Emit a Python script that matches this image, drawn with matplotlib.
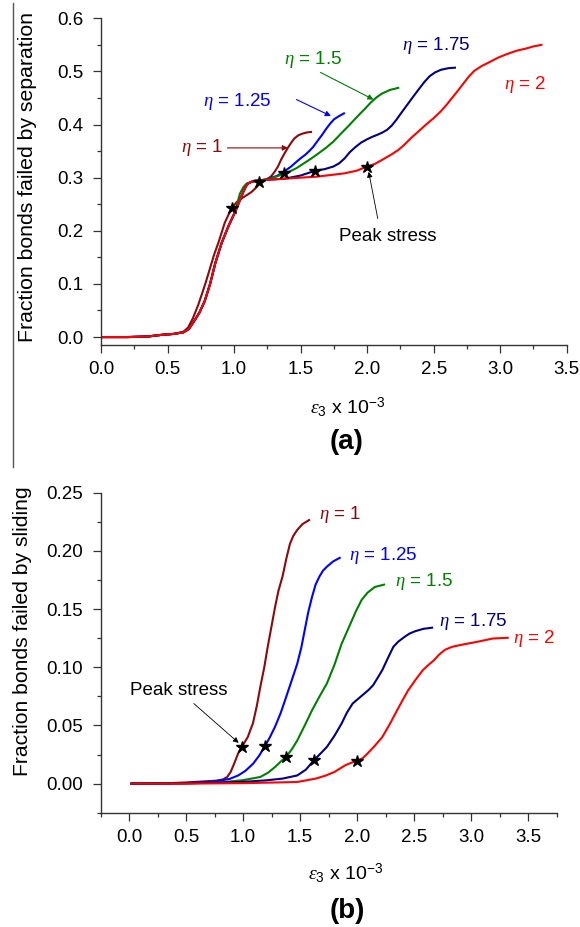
import matplotlib
matplotlib.use('Agg')
import matplotlib.pyplot as plt
from matplotlib.lines import Line2D
from matplotlib.ticker import MultipleLocator

plt.rcParams['font.family'] = ['Liberation Sans', 'DejaVu Sans']
plt.rcParams['mathtext.fontset'] = 'custom'
plt.rcParams['mathtext.rm'] = 'Liberation Sans'
plt.rcParams['mathtext.it'] = 'Liberation Serif:italic'

labels = ['1', '1.25', '1.5', '1.75', '2']
colors = ['#8b0a0a', '#0000ff', '#008000', '#000080', '#ff0000']

# (a) fraction of bonds failed by separation
rise_x = [0.0, 0.2, 0.35, 0.45, 0.55, 0.62, 0.66, 0.70, 0.74, 0.78, 0.82, 0.86, 0.908, 0.96, 1.007,
          1.04, 1.069, 1.09, 1.106, 1.13, 1.156]
rise_y = [0.0, 0.0, 0.001, 0.004, 0.006, 0.009, 0.015, 0.03, 0.046, 0.068, 0.10, 0.14, 0.178, 0.21, 0.235,
          0.255, 0.273, 0.284, 0.289, 0.292, 0.294]

sep_x1 = [0.0, 0.2, 0.35, 0.45, 0.55, 0.62, 0.655, 0.69, 0.73, 0.76, 0.79, 0.82, 0.85, 0.883, 0.93, 0.982,
          1.02, 1.056, 1.095, 1.131, 1.165, 1.193, 1.225, 1.255, 1.28, 1.305, 1.33, 1.354, 1.38, 1.404,
          1.43, 1.454, 1.485, 1.516, 1.545, 1.578]
sep_y1 = [0.0, 0.0, 0.001, 0.004, 0.006, 0.01, 0.018, 0.035, 0.06, 0.082, 0.105, 0.13, 0.155, 0.178, 0.215,
          0.243, 0.254, 0.261, 0.267, 0.273, 0.281, 0.289, 0.294, 0.298, 0.303, 0.311, 0.321, 0.334, 0.346,
          0.356, 0.366, 0.374, 0.38, 0.383, 0.385, 0.386]
sep_x2 = rise_x + [1.205, 1.24, 1.28, 1.32, 1.354, 1.39, 1.429, 1.465, 1.503, 1.535, 1.565, 1.595, 1.627,
                   1.66, 1.69, 1.72, 1.752, 1.79, 1.826]
sep_y2 = rise_y + [0.295, 0.297, 0.300, 0.303, 0.308, 0.314, 0.321, 0.329, 0.337, 0.343, 0.350, 0.358,
                   0.369, 0.380, 0.391, 0.401, 0.410, 0.416, 0.421]
sep_x3 = rise_x[:-6] + [1.044, 1.07, 1.094, 1.131, 1.2, 1.28, 1.33, 1.374, 1.413, 1.47, 1.525, 1.58, 1.636,
                        1.69, 1.747, 1.80, 1.859, 1.90, 1.942, 1.985, 2.026, 2.07, 2.11, 2.17, 2.234]
sep_y3 = rise_y[:-6] + [0.27, 0.282, 0.289, 0.292, 0.295, 0.299, 0.303, 0.308, 0.311, 0.318, 0.327, 0.336,
                        0.346, 0.356, 0.368, 0.382, 0.397, 0.408, 0.419, 0.430, 0.441, 0.451, 0.458, 0.465,
                        0.469]
sep_x4 = rise_x + [1.255, 1.379, 1.5, 1.61, 1.68, 1.747, 1.79, 1.83, 1.87, 1.914, 1.955, 1.998, 2.04, 2.08,
                   2.115, 2.15, 2.185, 2.22, 2.26, 2.304, 2.345, 2.387, 2.43, 2.47, 2.51, 2.554, 2.61, 2.66]
sep_y4 = rise_y + [0.296, 0.298, 0.304, 0.313, 0.316, 0.321, 0.327, 0.336, 0.348, 0.358, 0.366, 0.372,
                   0.377, 0.381, 0.385, 0.39, 0.398, 0.409, 0.423, 0.438, 0.452, 0.466, 0.48, 0.491, 0.498,
                   0.503, 0.506, 0.507]
sep_x5 = rise_x + [1.255, 1.379, 1.5, 1.627, 1.726, 1.826, 1.92, 2.0, 2.06, 2.137, 2.185, 2.234, 2.28,
                   2.332, 2.39, 2.443, 2.5, 2.554, 2.6, 2.638, 2.68, 2.72, 2.76, 2.805, 2.86, 2.916, 2.985,
                   3.055, 3.125, 3.194, 3.25, 3.31]
sep_y5 = rise_y + [0.296, 0.298, 0.300, 0.302, 0.305, 0.308, 0.313, 0.321, 0.326, 0.337, 0.344, 0.352,
                   0.362, 0.375, 0.388, 0.40, 0.412, 0.425, 0.438, 0.45, 0.463, 0.476, 0.489, 0.501, 0.51,
                   0.517, 0.526, 0.533, 0.539, 0.543, 0.547, 0.550]
sep_peak_x = [0.982, 1.19, 1.374, 1.61, 2.0]
sep_peak_y = [0.243, 0.292, 0.308, 0.313, 0.321]

# (b) fraction of bonds failed by sliding
sld_x1 = [0.02, 0.3, 0.5, 0.76, 0.82, 0.86, 0.89, 0.92, 0.956, 0.988, 1.04, 1.086, 1.12, 1.15, 1.185, 1.215,
          1.25, 1.28, 1.31, 1.345, 1.38, 1.41, 1.44, 1.474, 1.52, 1.578]
sld_y1 = [0.0, 0.0002, 0.001, 0.0025, 0.0035, 0.0057, 0.01, 0.017, 0.026, 0.0315, 0.04, 0.052, 0.067, 0.083,
          0.1, 0.1175, 0.136, 0.152, 0.166, 0.178, 0.194, 0.206, 0.213, 0.218, 0.223, 0.2265]
sld_x2 = [0.02, 0.3, 0.5, 0.76, 0.88, 0.956, 1.02, 1.086, 1.14, 1.19, 1.235, 1.28, 1.33, 1.377, 1.43, 1.474,
          1.51, 1.54, 1.57, 1.604, 1.635, 1.669, 1.70, 1.734, 1.79, 1.847]
sld_y2 = [0.0, 0.0001, 0.0005, 0.002, 0.004, 0.007, 0.011, 0.017, 0.024, 0.032, 0.04, 0.049, 0.061, 0.0745,
          0.09, 0.103, 0.117, 0.132, 0.147, 0.1605, 0.171, 0.178, 0.183, 0.1864, 0.191, 0.194]
sld_x3 = [0.02, 0.5, 0.8, 1.0, 1.15, 1.22, 1.28, 1.33, 1.377, 1.43, 1.474, 1.54, 1.604, 1.67, 1.734, 1.80,
          1.863, 1.93, 1.993, 2.04, 2.09, 2.155, 2.236]
sld_y3 = [0.0, 0.0003, 0.001, 0.003, 0.0057, 0.0095, 0.0143, 0.019, 0.023, 0.03, 0.037, 0.05, 0.063, 0.075,
          0.086, 0.102, 0.12, 0.135, 0.149, 0.158, 0.164, 0.169, 0.171]
sld_x4 = [0.02, 0.5, 1.0, 1.2, 1.345, 1.474, 1.55, 1.62, 1.68, 1.734, 1.80, 1.863, 1.91, 1.96, 2.01, 2.058,
          2.10, 2.14, 2.18, 2.22, 2.27, 2.317, 2.36, 2.414, 2.46, 2.51, 2.58, 2.657]
sld_y4 = [0.0, 0.0002, 0.0015, 0.0028, 0.0043, 0.007, 0.012, 0.02, 0.026, 0.0315, 0.041, 0.0516, 0.061,
          0.0688, 0.073, 0.077, 0.0805, 0.0846, 0.091, 0.0975, 0.108, 0.1175, 0.122, 0.126, 0.129, 0.131,
          0.133, 0.134]
sld_x5 = [0.02, 0.5, 1.0, 1.3, 1.474, 1.636, 1.72, 1.8, 1.896, 1.95, 2.0, 2.05, 2.09, 2.15, 2.22, 2.285,
          2.35, 2.4, 2.446, 2.51, 2.576, 2.625, 2.673, 2.72, 2.77, 2.83, 2.9, 2.98, 3.06, 3.19, 3.32]
sld_y5 = [0.0, 0.0, 0.0004, 0.001, 0.0014, 0.0043, 0.0068, 0.010, 0.0158, 0.018, 0.0195, 0.022, 0.0258,
          0.032, 0.040, 0.051, 0.063, 0.072, 0.080, 0.089, 0.0975, 0.102, 0.106, 0.111, 0.115, 0.1175, 0.119,
          0.1205, 0.122, 0.1247, 0.1253]
sld_peak_x = [0.988, 1.19, 1.377, 1.62, 2.0]
sld_peak_y = [0.0315, 0.032, 0.023, 0.02, 0.0195]

sep_x = [sep_x1, sep_x2, sep_x3, sep_x4, sep_x5]
sep_y = [sep_y1, sep_y2, sep_y3, sep_y4, sep_y5]
sld_x = [sld_x1, sld_x2, sld_x3, sld_x4, sld_x5]
sld_y = [sld_y1, sld_y2, sld_y3, sld_y4, sld_y5]

fig = plt.figure(figsize=(5.8, 9.27), dpi=100)
ax1 = fig.add_axes([0.1741, 0.6278, 0.803, 0.3525])
ax2 = fig.add_axes([0.1736, 0.1233, 0.7862, 0.3452])

fs = 13.5


def style(ax):
    for s in ['top', 'right']:
        ax.spines[s].set_visible(False)
    for s in ['left', 'bottom']:
        ax.spines[s].set_linewidth(1.0)
        ax.spines[s].set_color('#333333')
    ax.tick_params(which='major', direction='out', length=5.5, width=0.9, labelsize=13.5, color='#333333')
    ax.tick_params(which='minor', direction='out', length=3, width=0.9, color='#333333')
    ax.tick_params(axis='x', which='major', pad=6)
    ax.tick_params(axis='y', which='major', pad=7)


def arrow(ax, tail, head, color, lw=0.8):
    ax.annotate('', xy=head, xytext=tail,
                arrowprops=dict(arrowstyle='-|>', color=color, lw=lw, mutation_scale=8, shrinkA=0, shrinkB=0))


# top panel
for i in range(5):
    ax1.plot(sep_x[i], sep_y[i], color=colors[i], lw=1.5)
ax1.plot(sep_peak_x, sep_peak_y, ls='none', marker='*', ms=9, color='black')
ax1.set_xlim(0, 3.5)
ax1.set_ylim(-0.015, 0.6)
ax1.xaxis.set_major_locator(MultipleLocator(0.5))
ax1.xaxis.set_minor_locator(MultipleLocator(0.25))
ax1.yaxis.set_major_locator(MultipleLocator(0.1))
ax1.yaxis.set_minor_locator(MultipleLocator(0.05))
ax1.xaxis.set_major_formatter(lambda v, p: '%.1f' % v)
ax1.yaxis.set_major_formatter(lambda v, p: '%.1f' % v)
style(ax1)

ax1.text(0.92, 0.356, r'$\eta$ = 1', color=colors[0], fontsize=fs, ha='right', va='center')
arrow(ax1, (0.95, 0.356), (1.405, 0.356), colors[0])
ax1.text(0.768, 0.444, r'$\eta$ = 1.25', color=colors[1], fontsize=fs, ha='left', va='center')
arrow(ax1, (1.469, 0.447), (1.728, 0.416), colors[1])
ax1.text(1.372, 0.523, r'$\eta$ = 1.5', color=colors[2], fontsize=fs, ha='left', va='center')
arrow(ax1, (1.65, 0.498), (2.048, 0.447), colors[2])
ax1.text(2.262, 0.548, r'$\eta$ = 1.75', color=colors[3], fontsize=fs, ha='left', va='center')
ax1.text(3.027, 0.476, r'$\eta$ = 2', color=colors[4], fontsize=fs, ha='left', va='center')
ax1.text(2.154, 0.19, 'Peak stress', fontsize=fs, ha='center', va='center')
arrow(ax1, (2.08, 0.223), (2.012, 0.311), 'black', lw=0.6)

# bottom panel
for i in range(5):
    ax2.plot(sld_x[i], sld_y[i], color=colors[i], lw=1.5)
ax2.plot(sld_peak_x, sld_peak_y, ls='none', marker='*', ms=9, color='black')
ax2.set_xlim(-0.25, 3.75)
ax2.set_ylim(-0.025, 0.25)
ax2.xaxis.set_minor_locator(MultipleLocator(0.25))
ax2.yaxis.set_minor_locator(MultipleLocator(0.025))
ax2.set_xticks([0, 0.5, 1.0, 1.5, 2.0, 2.5, 3.0, 3.5])
ax2.set_yticks([0, 0.05, 0.1, 0.15, 0.2, 0.25])
ax2.xaxis.set_major_formatter(lambda v, p: '%.1f' % v)
ax2.yaxis.set_major_formatter(lambda v, p: '%.2f' % v)
style(ax2)

ax2.text(1.669, 0.231, r'$\eta$ = 1', color=colors[0], fontsize=fs, ha='left', va='center')
ax2.text(1.928, 0.196, r'$\eta$ = 1.25', color=colors[1], fontsize=fs, ha='left', va='center')
ax2.text(2.333, 0.1735, r'$\eta$ = 1.5', color=colors[2], fontsize=fs, ha='left', va='center')
ax2.text(2.722, 0.139, r'$\eta$ = 1.75', color=colors[3], fontsize=fs, ha='left', va='center')
ax2.text(3.37, 0.1247, r'$\eta$ = 2', color=colors[4], fontsize=fs, ha='left', va='center')
ax2.text(0.4375, 0.0803, 'Peak stress', fontsize=fs, ha='center', va='center')
arrow(ax2, (0.567, 0.0688), (0.96, 0.035), 'black', lw=0.6)

# axis labels
fig.text(0.047, 0.8094, 'Fraction bonds failed by separation', rotation=90, ha='center', va='center', fontsize=15.3)
fig.text(0.038, 0.3186, 'Fraction bonds failed by sliding', rotation=90, ha='center', va='center', fontsize=15.2)
fig.text(0.60, 0.561, r'$\varepsilon_3$ x 10$^{-3}$', ha='center', va='center', fontsize=14)
fig.text(0.597, 0.523, '(a)', ha='center', va='center', fontsize=20, fontweight='bold')
fig.text(0.595, 0.0583, r'$\varepsilon_3$ x 10$^{-3}$', ha='center', va='center', fontsize=14)
fig.text(0.598, 0.0175, '(b)', ha='center', va='center', fontsize=20, fontweight='bold')

fig.add_artist(Line2D([0.023, 0.023], [0.496, 0.997], transform=fig.transFigure, color='#555555', lw=1))

fig.savefig('out.png', dpi=100)
